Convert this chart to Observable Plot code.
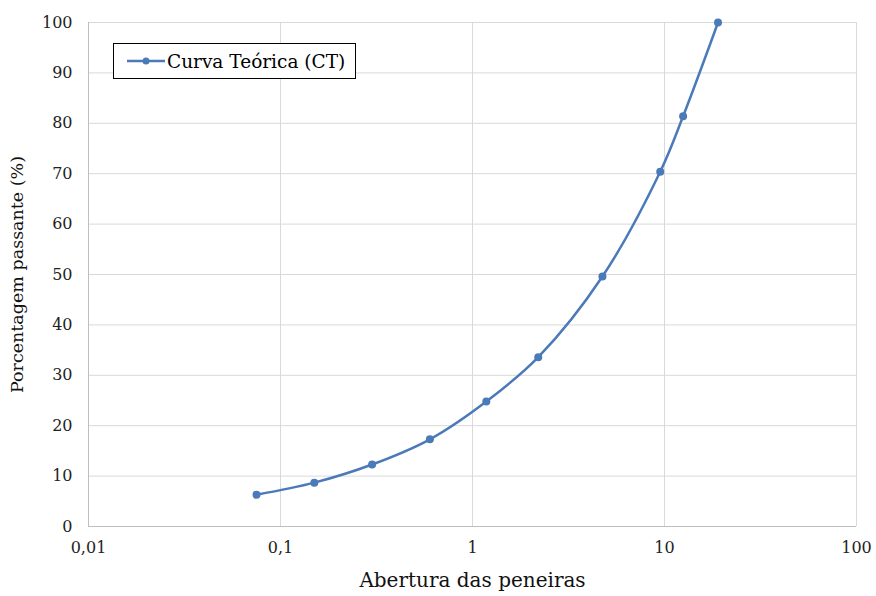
<!DOCTYPE html>
<html>
<head>
<meta charset="utf-8">
<script src="https://cdn.jsdelivr.net/npm/d3@7"></script>
<script src="https://cdn.jsdelivr.net/npm/@observablehq/plot@0.6"></script>
<style>
  body { margin: 0; background: #fff; }
  #wrap { position: relative; width: 876px; height: 596px; font-family: 'DejaVu Serif', serif; }
  #legend { position: absolute; left: 113px; top: 43px; width: 243px; height: 36px; border: 1px solid #000; background: #fff; display: flex; align-items: center; font-family: 'DejaVu Serif', serif; font-size: 18.5px; color: #000; box-sizing: border-box; }
  #legend svg { margin-left: 13px; margin-right: 2px; }
  svg text { font-family: 'DejaVu Serif', serif; }
</style>
</head>
<body>
<div id="wrap"></div>
<script>
const sieve = [0.075, 0.15, 0.3, 0.6, 1.18, 2.2, 4.75, 9.5, 12.5, 19];
const passing = [6.3, 8.7, 12.3, 17.3, 24.8, 33.6, 49.6, 70.4, 81.4, 100];
const xTicks = [0.01, 0.1, 1, 10, 100];
const yTicks = [0, 10, 20, 30, 40, 50, 60, 70, 80, 90, 100];
const seriesName = "Curva Teórica (CT)";
const xLabel = "Abertura das peneiras";
const yLabel = "Porcentagem passante (%)";
const color = "#4a7ab8";
const FONT = "'DejaVu Serif', serif";

const data = sieve.map((s, i) => ({x: s, y: passing[i]}));
const fmt = d => String(d).replace(".", ",");

const chart = Plot.plot({
  width: 876,
  height: 596,
  marginLeft: 88,
  marginRight: 20,
  marginTop: 22,
  marginBottom: 70,
  style: {fontFamily: FONT, fontSize: "16px", color: "#222", background: "#fff"},
  x: {type: "log", domain: [0.01, 100], label: null},
  y: {domain: [0, 100], label: null},
  marks: [
    Plot.ruleX(xTicks, {stroke: "#d9d9d9", strokeWidth: 1}),
    Plot.ruleY(yTicks, {stroke: "#d9d9d9", strokeWidth: 1}),
    Plot.ruleY([0], {stroke: "#bfbfbf", strokeWidth: 1}),
    Plot.ruleX([0.01], {stroke: "#bfbfbf", strokeWidth: 1}),
    Plot.axisX({ticks: xTicks, tickFormat: fmt, tickSize: 0, tickPadding: 15, fontSize: 16, fontFamily: FONT, fill: "#222", label: null}),
    Plot.axisY({ticks: yTicks, tickSize: 0, tickPadding: 16, fontSize: 16, fontFamily: FONT, fill: "#222", label: null}),
    Plot.axisX({ticks: [], label: xLabel, labelAnchor: "center", labelArrow: "none", labelOffset: 60, fontSize: 20, fontFamily: FONT, fill: "#111"}),
    Plot.axisY({ticks: [], label: yLabel, labelAnchor: "center", labelArrow: "none", labelOffset: 78, fontSize: 17.5, fontFamily: FONT, fill: "#111"}),
    Plot.line(data, {x: "x", y: "y", stroke: color, strokeWidth: 2.5, curve: "catmull-rom"}),
    Plot.dot(data, {x: "x", y: "y", fill: color, r: 4})
  ]
});

const wrap = document.getElementById("wrap");
wrap.appendChild(chart);
const leg = document.createElement("div");
leg.id = "legend";
leg.innerHTML = `<svg width="38" height="10"><line x1="0" y1="5" x2="38" y2="5" stroke="${color}" stroke-width="2.5"/><circle cx="19" cy="5" r="3.5" fill="${color}"/></svg><span>${seriesName}</span>`;
wrap.appendChild(leg);
</script>
</body>
</html>
